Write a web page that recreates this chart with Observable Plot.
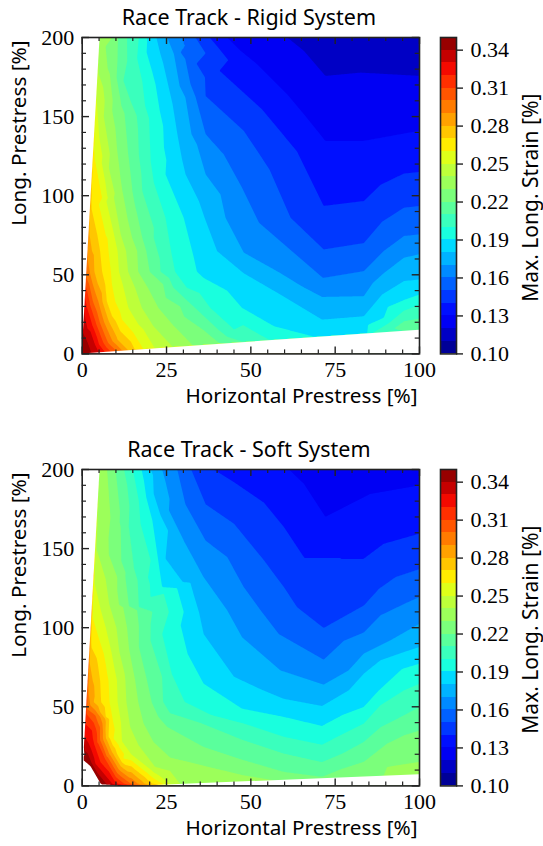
<!DOCTYPE html>
<html><head><meta charset="utf-8">
<script src="https://cdn.jsdelivr.net/npm/d3@7"></script>
<script src="https://cdn.jsdelivr.net/npm/@observablehq/plot@0.6"></script>
<style>
html,body{margin:0;padding:0;background:#fff}
#page{position:relative;width:543px;height:846px;overflow:hidden}
#page svg{position:absolute;overflow:visible;background:transparent}
.num text, text.num{font-family:'Liberation Serif',serif !important}
.lab text, text.lab{font-family:'Noto Sans',sans-serif !important}
</style></head><body><div id="page"></div>
<script>
const levels=[0.10,0.11,0.12,0.13,0.14,0.15,0.16,0.17,0.18,0.19,0.20,0.21,0.22,0.23,0.24,0.25,0.26,0.27,0.28,0.29,0.30,0.31,0.32,0.33,0.34,0.35];
const barTicks=[0.10,0.13,0.16,0.19,0.22,0.25,0.28,0.31,0.34];
const xMajor=[0,25,50,75,100], xMinor=[5,10,15,20,30,35,40,45,55,60,65,70,80,85,90,95];
const yMajor=[0,50,100,150,200], yMinor=[10,20,30,40,60,70,80,90,110,120,130,140,160,170,180,190];
const jet=["#000097","#0000c5","#0000f4","#000fff","#0038ff","#0061ff","#008aff","#00b3ff","#00dbff","#19ffde","#3affbd","#5aff9c","#7bff7b","#9cff5a","#bdff3a","#deff19","#ffec00","#ffc600","#ffa100","#ff7b00","#ff5500","#ff2f00","#f40900","#c50000","#970000","#ffffff"];

// Rigid system: points [level, [x, y]...]
const rigidLines=[
[0.12,[[60.8,200],[65.7,191.6],[72.1,175.7],[82.5,177.8],[100,175.7]]],
[0.13,[[43,200],[46.9,191.6],[51.9,183],[60.8,164],[65.7,151.5],[72.1,134.6],[83.5,134.6],[100,141]]],
[0.14,[[37.8,200],[43.3,185.7],[40.7,179],[53.3,154.6],[63.7,128],[71.6,93.5],[83.5,96.6],[88.4,106.8],[95.4,114],[100,115]]],
[0.15,[[33.6,200],[36.6,190],[33.9,183.5],[36.6,163],[47.9,141],[51.4,130],[61.8,86],[71.6,66],[83.5,70],[88.9,83.5],[95.4,92.4],[100,93.5]]],
[0.16,[[29.6,200],[30.6,194.7],[29.2,190.5],[32.1,170.5],[36.6,138.8],[42,126],[47.4,105],[52.4,83],[62.7,64],[71.4,48],[83.5,52.3],[89.4,65],[95.4,74.5],[100,75.5]]],
[0.17,[[25.2,200],[27.2,189.5],[30.6,162],[34,132.5],[36.6,113.5],[42.5,86],[47.9,64],[58.8,51],[71.1,36],[83.5,36.5],[89.4,51],[95.4,60.8],[100,63]]],
[0.18,[[22,200],[23.2,189.5],[25.7,168],[28.2,139],[29.6,123],[34.6,96.6],[40,65],[47.9,51],[58.8,37.5],[71.1,21.7],[83.5,23.8],[88.9,37.5],[95.4,46],[100,47]]],
[0.19,[[19.3,200],[19.1,190.5],[20.8,178],[23,153.6],[24.7,113.5],[30.1,86],[33.1,60.8],[34,52],[36,48],[47.4,29],[56.8,17.5],[69.2,10.6],[84.5,12.9],[89.4,22.8],[95.4,34],[100,37.5]]],
[0.20,[[16.8,200],[16.3,187],[17.8,172.6],[19.8,149],[20.3,122],[24.7,86],[26.5,63],[27.5,52],[31,41.8],[38,29],[45,15.4],[55.8,8.6],[86,13],[92.4,22],[100,31]]],
[0.21,[[13.3,200],[12.2,172.6],[14.3,160],[16.8,126],[17.8,103],[21.2,73.4],[23,60],[23.2,52],[27,42],[33.5,29],[40.5,15],[48,7.4],[92.4,16],[95.4,20.7],[100,22.4]]],
[0.22,[[10.6,200],[10.4,183],[11.4,160],[13.3,134.6],[14.8,105],[17.8,73.4],[19,65],[20,52],[24,44],[29,30],[36,15],[41,6.3]]],
[0.23,[[8.9,200],[8.2,176.8],[8.9,153.6],[10.4,128],[11.9,103],[14.8,73.4],[16.3,65],[16.6,52],[19.5,41.7],[22.6,29],[27,18],[33,5]]],
[0.24,[[4.7,178],[6.4,150],[7.9,117.7],[9.4,98.7],[11.4,75.5],[13,65],[13.6,52],[15.7,41.7],[17.7,29],[21.1,17.5],[27,4.1]]],
[0.25,[[4.3,160],[6,125],[7.4,100],[9.5,75],[10.5,65],[10.9,52],[12,44],[13.7,29],[16.7,18.5],[21.6,3.3]]],
[0.26,[[3.7,124],[5.9,98.7],[7.5,73],[7.8,65],[8.5,52],[8.8,44],[9.8,33],[11.8,21.7],[15.2,13.3],[18.2,2.8]]],
[0.27,[[2.7,92.4],[4.5,75],[5.3,65],[5.9,52],[6.8,44],[7.3,33],[8.8,24],[11.3,14.3],[15.7,2.4]]],
[0.28,[[2,77.6],[2.9,65],[3.6,52],[4.5,45],[6,33],[8,20],[10.5,9],[13.7,2.1]]],
[0.29,[[1.6,60],[3,45],[4.8,33],[6.5,20],[9,8],[12,1.8]]],
[0.30,[[1.1,49],[3.2,33],[5.2,20],[7.7,7],[10.3,1.6]]],
[0.31,[[0.9,44],[2.2,33],[4,20],[6.3,7],[8.6,1.3]]],
[0.32,[[0.7,37],[3,18],[5,6],[6.8,1]]],
[0.33,[[0.4,28],[2.5,14],[3.8,6],[5,0.8]]],
[0.34,[[0.1,14],[1.5,8],[2.8,0.5]]],
[0.348,[[0,0]]],
[0.115,[[100,200],[85,200],[72,200]]],
[0.235,[[5.2,200]]],
[0.215,[[100,15]]],
[0.186,[[77,11.6]]]
];
// Soft system
const softLines=[
[0.13,[[61.3,200],[65.7,191],[72.1,170],[85.5,184.6],[100,190]]],
[0.14,[[39,200],[45,192],[53.9,179],[59.8,163.6],[65.7,144.6],[71.8,130],[83.5,143.6],[89.4,153],[100,159.4]]],
[0.15,[[32.3,200],[36.6,178],[45,165.7],[53.9,142.5],[59.8,125.7],[63.7,113],[71.6,99.8],[83.5,114],[88,124.6],[92.9,132],[100,137]]],
[0.16,[[28.2,200],[30.6,178],[36.6,155],[43,144.6],[47.9,125.7],[52.9,111],[58.3,96],[71.6,79.8],[83.5,97],[88.4,107.8],[95.4,115],[100,119.4]]],
[0.17,[[23.7,200],[25.7,174],[30.1,155],[36,132],[43,111],[47.4,94],[58.8,73],[71.6,64],[79,73],[83.5,83.6],[91.4,92],[100,102.5]]],
[0.18,[[20.3,200],[21.2,184.6],[24.7,143.6],[34.6,110],[36,96],[45,69],[59.8,55],[71.1,50.5],[79,60.4],[83.5,71],[88.4,79.4],[95.4,84.6],[100,87.8]]],
[0.19,[[17.6,200],[18.3,193],[20.8,167.8],[23.7,125.7],[30.1,110],[29.2,101.5],[36,64.6],[47.4,48.8],[59.8,43.6],[71.1,37.9],[83.5,49.9],[88,60.4],[94.9,74],[100,77.3]]],
[0.20,[[14.8,200],[16.8,180],[20.3,142.5],[24.2,121.5],[25.7,110],[23.7,96],[26.5,71],[30.4,53],[38,45],[47.9,39.4],[59.8,31],[71.1,26],[83.5,39.4],[88.4,51],[95.4,60.4],[100,64.6]]],
[0.21,[[12.4,200],[13.8,163.6],[15.3,138],[16.8,113],[20.8,110],[20.3,102.5],[23.7,68.8],[24,53],[26,46],[35.6,39.4],[47.9,28.8],[59.8,20.4],[71.1,15],[83.5,27.8],[88.4,37],[95.4,44.6],[100,49.9]]],
[0.22,[[9.9,200],[11.4,163.6],[12.8,132],[16.3,111],[16.8,87.8],[19.2,66.7],[20.6,53],[22.6,43.6],[25.2,37.3],[36,24.6],[47.9,16.2],[59.8,8.8],[71.1,5.7],[83.5,15.2],[90.4,26.7],[95.4,32],[100,35]]],
[0.23,[[7.4,200],[8.4,170],[10.4,132],[13.3,100],[15.7,66.7],[16.6,53],[18.2,39.4],[21.1,27.8],[26,18],[35.6,13],[47.9,6.7],[57.8,3.2],[82.5,6.3],[90.4,12],[100,15.2]]],
[0.24,[[4.2,150],[8,115],[11,85],[12.8,66.7],[13.1,53],[14.2,37.3],[16.7,25.7],[21.6,12],[29,1.3]]],
[0.25,[[3.5,130],[7,100],[9.5,75],[10.5,53],[11.5,40],[11.8,28],[14.5,20],[26,1.2]]],
[0.26,[[3.1,106.7],[6.4,83.6],[7.8,66.7],[8.1,53],[9,42.5],[9.3,29.9],[12.2,17.3],[24.1,1]]],
[0.27,[[2.7,87.8],[5.3,66.7],[5.6,53],[7,43.6],[7.8,31],[10.3,20.4],[21.1,1]]],
[0.28,[[2.2,78],[3.1,66.7],[3.4,53],[5.3,46.7],[6.8,42.5],[7,31],[8.8,21.5],[18.7,1]]],
[0.29,[[1.8,60],[3.9,47.8],[6,39.4],[6.3,28.8],[8.3,19.4],[16.7,1]]],
[0.30,[[1.4,48.8],[3.9,44.6],[5.3,37],[5.3,29],[7.3,18.3],[14.7,1]]],
[0.31,[[1.2,45.7],[3.4,40],[4.4,33],[4.8,26.7],[6.8,17],[12.7,1]]],
[0.32,[[1,39],[2.9,35],[3.6,26],[5.4,15],[10.8,1]]],
[0.33,[[0.7,31],[1.9,27],[3.9,14],[9.1,1]]],
[0.34,[[0.6,22.5],[1.7,20.4],[2.9,14],[7.3,1]]],
[0.35,[[0.4,16.2],[5.6,1]]],
[0.42,[[0,0]]],
[0.125,[[100,200],[72,200]]],
[0.235,[[5.2,200],[100,7]]],
[0.228,[[85,5.7]]]
];
// Edges of the sampled domain (outside them nothing was computed)
const rigidLeft=[[0,0],[200,5.3]], rigidBottom=[[0,0],[100,15]];
const softLeft=[[0,0],[200,5.3]], softBottom=[[0,0],[18,0],[100,7]];

const serif="Liberation Serif, serif", sans="Noto Sans, sans-serif";
const INK="#222";
const flat=L=>L.flatMap(([v,pts])=>pts.map(([x,y])=>({x,y,v:v+1e-6})));
const colorScale={type:"threshold",domain:levels.slice(1),range:jet};
const page=document.getElementById("page");
const lbl=d=>d;

function panel(top,title,lines,left,bottom){
  const H=420, mt=37, ph=316.4, mb=H-mt-ph;
  const main=Plot.plot({
    width:543,height:H,marginLeft:81.7,marginRight:124,marginTop:mt,marginBottom:mb,
    style:{background:"transparent"},
    x:{domain:[0,100],axis:null},y:{domain:[0,200],axis:null},color:colorScale,
    marks:[
      Plot.contour(flat(lines),{x:"x",y:"y",fill:"v",interpolate:"barycentric",thresholds:levels,pixelSize:1,blur:0,stroke:"none"}),
      Plot.areaX(left,{y:d=>d[0],x1:0,x2:d=>d[1],fill:"white"}),
      Plot.areaY(bottom,{x:d=>d[0],y1:0,y2:d=>d[1],fill:"white"}),
      Plot.tickX(xMajor,{x:lbl,insetTop:ph-7,stroke:INK,strokeWidth:1.4}),
      Plot.tickX(xMajor,{x:lbl,insetBottom:ph-7,stroke:INK,strokeWidth:1.4}),
      Plot.tickX(xMinor,{x:lbl,insetTop:ph-4,stroke:INK,strokeWidth:1.2}),
      Plot.tickX(xMinor,{x:lbl,insetBottom:ph-4,stroke:INK,strokeWidth:1.2}),
      Plot.tickY(yMajor,{y:lbl,insetRight:337-7,stroke:INK,strokeWidth:1.4}),
      Plot.tickY(yMajor,{y:lbl,insetLeft:337-7,stroke:INK,strokeWidth:1.4}),
      Plot.tickY(yMinor,{y:lbl,insetRight:337-4,stroke:INK,strokeWidth:1.2}),
      Plot.tickY(yMinor,{y:lbl,insetLeft:337-4,stroke:INK,strokeWidth:1.2}),
      Plot.frame({stroke:INK,strokeWidth:1.6}),
      Plot.text(xMajor,{x:lbl,text:d=>String(d),frameAnchor:"bottom",lineAnchor:"middle",dy:16,className:"num",fontFamily:serif,fontSize:22,fill:"black"}),
      Plot.text(yMajor,{y:lbl,text:d=>String(d),frameAnchor:"left",textAnchor:"end",dx:-8,className:"num",fontFamily:serif,fontSize:22,fill:"black"}),
      Plot.text([title],{frameAnchor:"top",dy:-28,dx:-2,text:lbl,className:"lab",fontFamily:sans,fontSize:21.5,lineAnchor:"top",fill:"black"}),
      Plot.text(["Horizontal Prestress [%]"],{frameAnchor:"bottom-right",dy:34,dx:-2,lineAnchor:"top",textAnchor:"end",text:lbl,className:"lab",fontFamily:sans,fontSize:20.7,fill:"black"}),
      Plot.text(["Long. Prestress [%]"],{frameAnchor:"top-left",rotate:-90,dx:-63,dy:3,lineAnchor:"middle",textAnchor:"end",text:lbl,className:"lab",fontFamily:sans,fontSize:20.7,fill:"black"})
    ]
  });
  main.style.left="0px";main.style.top=top+"px";
  page.appendChild(main);
  const bar=Plot.plot({
    width:113,height:H,marginLeft:10,marginRight:87,marginTop:mt,marginBottom:mb,
    style:{background:"transparent"},
    x:{domain:[0,1],axis:null},y:{domain:[0.10,0.35],axis:null},color:colorScale,
    marks:[
      Plot.rect(levels.slice(0,-1).map((d,i)=>[d,levels[i+1]]),{x1:0,x2:1,y1:d=>d[0],y2:d=>d[1],fill:d=>d[0],shapeRendering:"crispEdges"}),
      Plot.frame({stroke:INK,strokeWidth:1.6}),
      Plot.tickY(barTicks,{y:lbl,insetLeft:16,insetRight:-7,stroke:INK,strokeWidth:1.4}),
      Plot.text(barTicks,{y:lbl,text:d3.format(".2f"),frameAnchor:"right",textAnchor:"start",dx:14,className:"num",fontFamily:serif,fontSize:22,fill:"black"}),
      Plot.text(["Max. Long. Strain [%]"],{frameAnchor:"right",rotate:-90,dx:75,dy:2,lineAnchor:"middle",textAnchor:"middle",text:lbl,className:"lab",fontFamily:sans,fontSize:21,fill:"black"})
    ]
  });
  bar.style.left="430px";bar.style.top=top+"px";
  page.appendChild(bar);
}
panel(0,"Race Track - Rigid System",rigidLines,rigidLeft,rigidBottom);
panel(432,"Race Track - Soft System",softLines,softLeft,softBottom);
</script></body></html>
